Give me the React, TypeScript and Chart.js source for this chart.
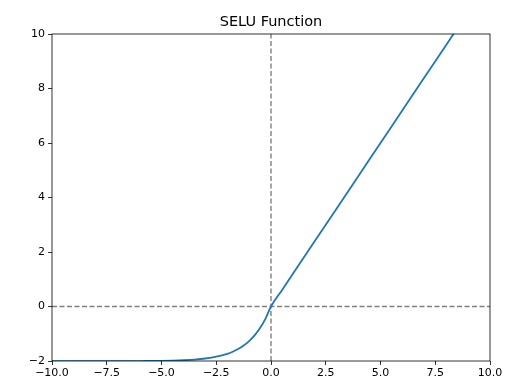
import React, { useEffect, useRef } from "react";
import { Chart, registerables } from "chart.js";

Chart.register(...registerables);

const TITLE = "SELU Function";
const xValues = [
  -10, -9, -8, -7, -6, -5, -4.5, -4, -3.5, -3, -2.5, -2, -1.75, -1.5, -1.25, -1,
  -0.75, -0.5, -0.25, 0, 0.5, 1, 2, 3, 4, 5, 6, 7, 8, 9, 10,
];
const yValues = [
  -2.008, -2.008, -2.007, -2.006, -2.003, -1.994, -1.986, -1.971, -1.947, -1.908,
  -1.843, -1.736, -1.659, -1.56, -1.433, -1.269, -1.059, -0.79, -0.444, 0, 0.6,
  1.2, 2.4, 3.6, 4.8, 6.0, 7.2, 8.4, 9.6, 10.8, 12.0,
];
const xTicks = [-10, -7.5, -5, -2.5, 0, 2.5, 5, 7.5, 10];
const yTicks = [-2, 0, 2, 4, 6, 8, 10];

const FONT = "'DejaVu Sans', sans-serif";
const fmt = (v: number, d: number) => v.toFixed(d).replace("-", "\u2212");

export default function App() {
  const ref = useRef<HTMLCanvasElement>(null);
  useEffect(() => {
    document.body.style.margin = "0";
    const frame = {
      id: "frame",
      afterDatasetsDraw(chart: any) {
        const { ctx, chartArea: a } = chart;
        ctx.save();
        ctx.strokeStyle = "#000";
        ctx.lineWidth = 0.8;
        ctx.strokeRect(a.left, a.top, a.right - a.left, a.bottom - a.top);
        ctx.fillStyle = "#000";
        ctx.font = `14.5px ${FONT}`;
        ctx.textAlign = "center";
        ctx.textBaseline = "bottom";
        ctx.fillText(TITLE, (a.left + a.right) / 2, a.top - 5);
        ctx.restore();
      },
    };
    const chart = new Chart(ref.current!, {
      type: "line",
      data: {
        datasets: [
          {
            data: xValues.map((x, i) => ({ x, y: yValues[i] })),
            borderColor: "#1f77b4",
            borderWidth: 1.8,
            pointRadius: 0,
            cubicInterpolationMode: "monotone",
          },
          {
            data: [
              { x: xTicks[0], y: 0 },
              { x: xTicks[xTicks.length - 1], y: 0 },
            ],
            borderColor: "#808080",
            borderWidth: 1.4,
            borderDash: [5, 2.5],
            pointRadius: 0,
          },
          {
            data: [
              { x: 0, y: yTicks[0] },
              { x: 0, y: yTicks[yTicks.length - 1] },
            ],
            borderColor: "#808080",
            borderWidth: 1.4,
            borderDash: [5, 2.5],
            pointRadius: 0,
          },
        ],
      },
      options: {
        animation: false,
        responsive: false,
        layout: { padding: { left: 0, right: 19, top: 34, bottom: 0 } },
        plugins: { legend: { display: false }, tooltip: { enabled: false } },
        scales: {
          x: {
            type: "linear",
            min: -10,
            max: 10,
            afterFit: (s: any) => { s.height = 23; },
            afterBuildTicks: (s: any) => { s.ticks = xTicks.map((v) => ({ value: v })); },
            grid: { drawOnChartArea: false, drawTicks: true, tickLength: 4, color: "#000", lineWidth: 0.8 },
            border: { display: false },
            ticks: {
              color: "#000",
              padding: 2,
              maxRotation: 0,
              font: { family: FONT, size: 11 },
              callback: (v: any) => fmt(Number(v), 1),
            },
          },
          y: {
            type: "linear",
            min: -2,
            max: 10,
            afterFit: (s: any) => { s.width = 52; },
            afterBuildTicks: (s: any) => { s.ticks = yTicks.map((v) => ({ value: v })); },
            grid: { drawOnChartArea: false, drawTicks: true, tickLength: 4, color: "#000", lineWidth: 0.8 },
            border: { display: false },
            ticks: {
              color: "#000",
              padding: 3,
              font: { family: FONT, size: 11 },
              callback: (v: any) => fmt(Number(v), 0),
            },
          },
        },
      },
      plugins: [frame],
    } as any);
    return () => chart.destroy();
  }, []);
  return (
    <div style={{ width: 509, height: 384 }}>
      <canvas ref={ref} width={509} height={384} style={{ width: 509, height: 384 }} />
    </div>
  );
}
